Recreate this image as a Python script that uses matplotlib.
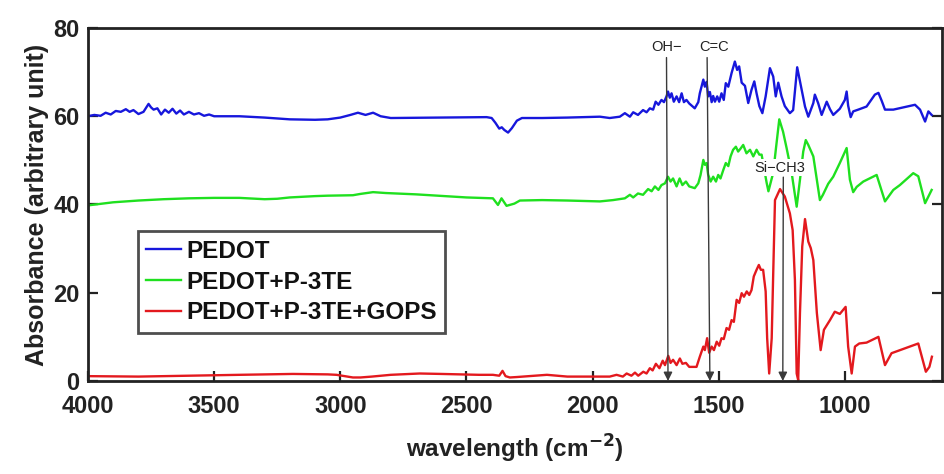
import matplotlib
matplotlib.use("Agg")
import matplotlib.pyplot as plt

plt.rcParams['font.family'] = ['Liberation Sans', 'DejaVu Sans']

# ---------------- data (wavenumber, absorbance) ----------------
pedot_wn = [4000, 3975, 3950, 3930, 3910, 3890, 3870, 3850, 3835, 3820, 3800, 3780, 3760, 3750,
            3740, 3725, 3710, 3695, 3680, 3665, 3650, 3635, 3620, 3600, 3580, 3560, 3540, 3520,
            3500, 3400, 3300, 3200, 3100, 3050, 3000, 2960, 2930, 2900, 2870, 2840, 2800, 2600,
            2420, 2400, 2385, 2370, 2360, 2350, 2335, 2320, 2300, 2280, 2200, 2100,
            1971, 1932, 1892, 1872, 1852, 1839, 1820, 1800, 1786, 1773, 1760, 1750, 1739, 1727,
            1717, 1707, 1701, 1694, 1687, 1678, 1667, 1657, 1647, 1638, 1628, 1617, 1595, 1581,
            1575, 1561, 1555, 1548, 1542, 1535, 1528, 1522, 1515, 1506, 1498, 1489, 1480, 1472,
            1462, 1449, 1436, 1427, 1419, 1409, 1396, 1383, 1370, 1359, 1350, 1339, 1327, 1314,
            1297, 1284, 1274, 1264, 1251, 1238, 1218, 1205, 1189, 1171, 1158, 1145, 1125, 1119,
            1106, 1092, 1072, 1059, 1046, 1020, 1000, 993, 987, 977, 967, 947, 914, 881, 867,
            854, 841, 808, 768, 722, 702, 682, 669, 656]
pedot_abs = [60.0, 60.3, 60.1, 60.8, 60.4, 61.2, 61.0, 61.6, 61.0, 61.4, 60.5, 61.0, 62.8, 62.0,
             61.5, 61.8, 60.4, 61.5, 60.8, 61.7, 60.6, 61.3, 60.4, 61.0, 60.4, 60.7, 60.1, 60.4,
             60.0, 60.0, 59.7, 59.3, 59.2, 59.3, 59.7, 60.3, 60.8, 60.3, 60.8, 60.0, 59.6, 59.7,
             59.8, 59.6, 58.5, 57.2, 57.5, 56.9, 56.3, 57.3, 59.0, 59.6, 59.6, 59.7,
             59.9, 59.6, 59.9, 60.7, 59.9, 60.9, 60.3, 61.4, 60.9, 61.8, 61.5, 63.3, 62.6, 63.7,
             63.2, 64.5, 65.6, 64.2, 65.2, 63.3, 64.5, 63.2, 65.2, 63.2, 63.7, 62.9, 61.8, 63.2,
             65.2, 68.3, 66.7, 67.8, 64.5, 65.5, 63.2, 64.6, 63.3, 64.5, 63.3, 65.2, 63.7, 67.5,
             66.7, 69.8, 72.4, 70.5, 71.3, 67.6, 66.9, 63.0, 66.0, 67.9, 65.2, 62.3, 60.7, 64.5,
             70.9, 69.0, 64.5, 67.6, 64.5, 62.3, 60.7, 61.4, 71.1, 66.0, 62.2, 59.9, 63.0, 64.9,
             63.0, 60.3, 63.3, 61.6, 60.3, 61.7, 63.7, 65.6, 62.4, 59.8, 61.1, 61.5, 62.2, 64.9, 65.3,
             63.5, 61.5, 61.5, 62.0, 62.6, 61.5, 58.8, 61.1, 60.3]

p3te_wn = [4000, 3900, 3800, 3700, 3600, 3500, 3400, 3300, 3250, 3200, 3100, 3050, 2950, 2920,
           2870, 2820, 2700, 2500, 2395, 2375, 2361, 2341, 2310, 2288, 2200, 2100,
           1971, 1919, 1872, 1852, 1839, 1820, 1800, 1780, 1766, 1753, 1739, 1727, 1713, 1701,
           1691, 1681, 1667, 1655, 1644, 1630, 1617, 1595, 1581, 1572, 1561, 1555, 1548, 1542,
           1532, 1522, 1511, 1502, 1493, 1482, 1472, 1462, 1453, 1443, 1432, 1423, 1413, 1403,
           1390, 1376, 1363, 1350, 1339, 1330, 1310, 1303, 1284, 1273, 1260, 1245, 1231, 1211,
           1191, 1178, 1165, 1155, 1145, 1125, 1099, 1087, 1066, 1046, 1020, 993, 980, 967,
           953, 927, 874, 841, 808, 782, 729, 709, 682, 669, 656]
p3te_abs = [39.8, 40.5, 40.9, 41.2, 41.4, 41.5, 41.5, 41.2, 41.3, 41.6, 41.9, 42.0, 42.1, 42.4,
            42.8, 42.6, 42.3, 41.6, 41.4, 39.9, 41.4, 39.7, 40.2, 40.9, 41.0, 40.9,
            40.7, 41.0, 41.4, 42.2, 41.6, 42.5, 42.2, 43.5, 43.0, 44.1, 43.3, 44.4, 44.8, 46.3,
            45.2, 45.9, 44.1, 45.9, 44.4, 45.2, 44.1, 43.7, 44.8, 46.7, 50.1, 49.0, 49.4, 46.8,
            45.2, 46.3, 45.2, 46.7, 45.9, 47.8, 49.4, 48.7, 50.9, 52.4, 53.1, 52.0, 52.7, 53.5,
            51.6, 52.4, 50.9, 52.4, 51.3, 51.3, 44.9, 43.0, 47.2, 52.8, 59.3, 56.5, 52.8, 47.2,
            39.5, 45.6, 52.0, 54.6, 53.5, 50.9, 41.0, 42.2, 44.7, 46.3, 49.4, 52.8, 45.6, 42.8,
            44.0, 45.2, 46.7, 40.7, 43.3, 44.4, 47.1, 46.4, 40.3, 41.8, 43.3]

gops_wn = [4000, 3800, 3600, 3400, 3188, 3050, 3015, 2950, 2920, 2875, 2800, 2685, 2600, 2450,
           2395, 2370, 2357, 2345, 2328, 2300, 2181, 2100,
           1971, 1932, 1905, 1880, 1865, 1846, 1832, 1819, 1799, 1786, 1773, 1762, 1749, 1735,
           1722, 1713, 1700, 1691, 1681, 1667, 1654, 1644, 1630, 1617, 1588, 1575, 1561, 1555,
           1546, 1538, 1528, 1519, 1508, 1498, 1489, 1480, 1469, 1459, 1449, 1440, 1429, 1419,
           1409, 1400, 1389, 1379, 1370, 1361, 1350, 1341, 1333, 1324, 1314, 1308, 1300, 1290,
           1284, 1277, 1257, 1238, 1218, 1207, 1198, 1191, 1185, 1178, 1169, 1158, 1145, 1135,
           1125, 1111, 1096, 1083, 1059, 1040, 1020, 997, 987, 973, 960, 943, 914, 867, 841,
           815, 762, 709, 679, 665, 655]
gops_abs = [1.1, 1.0, 1.2, 1.4, 1.6, 1.5, 1.4, 0.8, 0.8, 1.0, 1.4, 1.7, 1.6, 1.4,
            1.4, 1.2, 2.3, 1.1, 0.8, 0.9, 1.4, 1.0,
            1.0, 1.0, 1.4, 1.0, 1.7, 1.2, 1.9, 1.2, 2.1, 1.7, 2.9, 2.4, 3.9, 2.9,
            4.6, 3.6, 5.7, 4.1, 4.8, 3.6, 5.1, 3.9, 4.1, 3.2, 3.2, 5.5, 7.8, 7.0,
            9.7, 6.4, 7.8, 7.0, 8.9, 8.0, 9.7, 9.5, 12.0, 11.6, 13.8, 13.4, 18.4, 17.7,
            19.9, 19.1, 20.3, 19.5, 20.6, 23.7, 25.2, 26.3, 25.2, 25.2, 20.3, 9.7, 1.7, 9.7,
            24.4, 41.0, 43.5, 41.8, 38.0, 34.2, 22.9, 1.7, 0.2, 15.4, 30.5, 36.7, 31.6, 30.1,
            27.4, 15.4, 7.0, 11.6, 13.8, 15.7, 15.2, 16.8, 7.8, 1.7, 7.8, 8.5, 8.7, 10.0, 3.6,
            6.3, 7.4, 8.5, 2.1, 3.2, 5.5]

series_labels = ['PEDOT', 'PEDOT+P-3TE', 'PEDOT+P-3TE+GOPS']
series_colors = ['#1717dc', '#1fe01f', '#e3191e']

x_ticks = [4000, 3500, 3000, 2500, 2000, 1500, 1000]
y_ticks = [0, 20, 40, 60, 80]

# annotations: label, text position (wn, abs), arrow start, arrow end
ann_labels = ['OH\u2212', 'C=C', 'Si\u2212CH3']
ann_text_pos = [(1707, 75.6), (1520, 75.6), (1257, 48.3)]
ann_arrow_start = [(1707, 73.3), (1546, 73.3), (1244, 46.2)]
ann_arrow_end = [(1701, 0), (1535, 0), (1246, 0)]

# ---------------- figure ----------------
fig = plt.figure(figsize=(9.45, 4.74), dpi=100)
ax = fig.add_axes([88 / 945, 1 - 381 / 474, (942 - 88) / 945, (381 - 28) / 474])

for wn, ab, lab, col in zip([pedot_wn, p3te_wn, gops_wn], [pedot_abs, p3te_abs, gops_abs],
                            series_labels, series_colors):
    ax.plot(wn, ab, color=col, lw=1.7, label=lab)

for lab, tp, st, en in zip(ann_labels, ann_text_pos, ann_arrow_start, ann_arrow_end):
    ax.annotate('', xy=en, xytext=st,
                arrowprops=dict(arrowstyle='-|>', color='#3a3a3a', lw=1.0,
                                mutation_scale=13, shrinkA=0, shrinkB=0))
    ax.text(tp[0], tp[1], lab, ha='center', va='center', fontsize=10.5, color='#222222',
            bbox=dict(boxstyle='square,pad=0.1', fc='white', ec='none'))

ax.set_xlim(4000, 615)
ax.set_ylim(0, 80)
ax.set_xticks(x_ticks)
ax.set_yticks(y_ticks)
ax.tick_params(direction='in', length=7, width=1.6, top=False, right=True,
               labelsize=17, pad=6, colors='#222222')
ax.tick_params(axis='x', pad=10)
for lbl in ax.get_xticklabels() + ax.get_yticklabels():
    lbl.set_fontweight('bold')
for sp in ax.spines.values():
    sp.set_linewidth(2.0)
    sp.set_color('#222222')

ax.set_xlabel('wavelength (cm$^{\\mathbf{-2}}$)', fontsize=17.5, fontweight='bold',
              color='#222222', labelpad=11)
ax.set_ylabel('Absorbance (arbitrary unit)', fontsize=18, fontweight='bold',
              color='#222222', labelpad=3)

leg = ax.legend(loc='lower left', bbox_to_anchor=(0.058, 0.136), prop=dict(weight='bold', size=17.5),
                frameon=True, fancybox=False, edgecolor='#222222', handlelength=1.45,
                handletextpad=0.2, labelspacing=0.32, borderpad=0.35, borderaxespad=0)
leg.get_frame().set_linewidth(2.0)
for t in leg.get_texts():
    t.set_color('#111111')

fig.savefig('out.png', dpi=100)
